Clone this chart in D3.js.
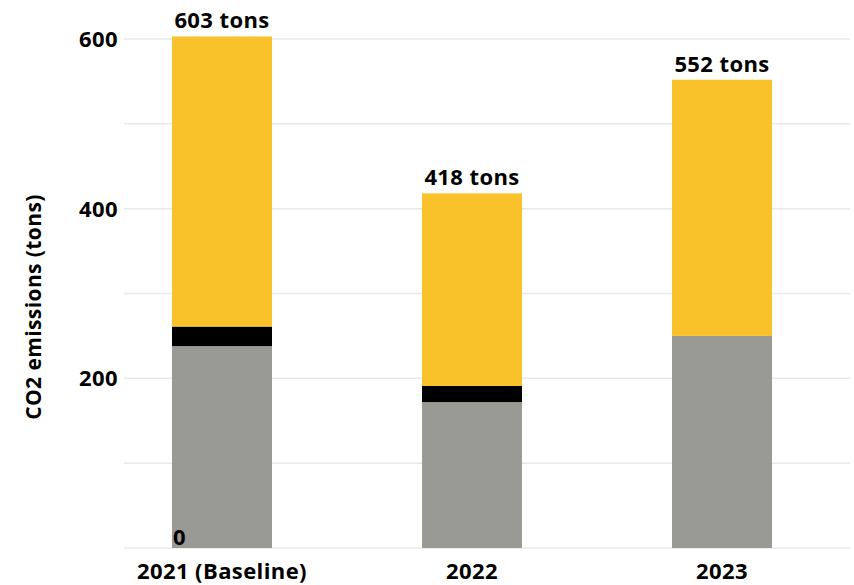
<!DOCTYPE html>
<html><head><meta charset="utf-8">
<script src="https://cdn.jsdelivr.net/npm/d3@7"></script>
<style>body{margin:0;background:#fff}text{font-family:"Open Sans",sans-serif;font-weight:700;fill:#000;letter-spacing:0.4px}</style>
</head><body><svg id="c" width="854" height="585"></svg>
<script>
const categories = ["2021 (Baseline)", "2022", "2023"];
const greyValues = [238, 172, 250];
const blackValues = [23, 19, 0];
const yellowValues = [342, 227, 302];
const totalLabels = ["603 tons", "418 tons", "552 tons"];
const gridValues = [0, 100, 200, 300, 400, 500, 600];
const tickLabels = ["0", "200", "400", "600"];
const tickLabelValues = [0, 200, 400, 600];
const yTitle = "CO2 emissions (tons)";

const svg = d3.select("#c");
const y = d3.scaleLinear().domain([0, 600]).range([548, 39]);
const x = d3.scaleBand().domain(categories).range([97, 847]).paddingInner(0.6).paddingOuter(0.3);

svg.append("g").selectAll("line").data(gridValues).join("line")
  .attr("x1", 124).attr("x2", 850).attr("y1", d => y(d)).attr("y2", d => y(d))
  .attr("stroke", "#e8e8e8").attr("stroke-width", 1.5);

const series = [
  {vals: greyValues, color: "#9a9a95"},
  {vals: blackValues, color: "#000000"},
  {vals: yellowValues, color: "#f9c22b"}
];
const stacked = categories.map((c, i) => {
  let acc = 0;
  return series.map(s => { const y0 = acc; acc += s.vals[i]; return {c, y0, y1: acc, color: s.color}; });
});
svg.append("g").selectAll("rect").data(stacked.flat().filter(d => d.y1 > d.y0)).join("rect")
  .attr("x", d => x(d.c)).attr("width", x.bandwidth())
  .attr("y", d => y(d.y1)).attr("height", d => y(d.y0) - y(d.y1))
  .attr("fill", d => d.color);

svg.append("g").selectAll("text").data(categories).join("text")
  .attr("x", (d) => x(d) + x.bandwidth() / 2)
  .attr("y", (d, i) => y(stacked[i][2].y1) - 8)
  .attr("text-anchor", "middle").attr("font-size", 22)
  .text((d, i) => totalLabels[i]);

svg.append("g").selectAll("text").data(tickLabelValues).join("text")
  .attr("x", d => d === 0 ? x(categories[0]) + 1 : 118)
  .attr("y", d => d === 0 ? y(d) - 3 : y(d) + 8)
  .attr("text-anchor", d => d === 0 ? "start" : "end").attr("font-size", 22)
  .text((d, i) => tickLabels[i]);

svg.append("g").selectAll("text").data(categories).join("text")
  .attr("x", d => x(d) + x.bandwidth() / 2).attr("y", 579)
  .attr("text-anchor", "middle").attr("font-size", 22)
  .text(d => d);

svg.append("text").attr("transform", "translate(41,307) rotate(-90)")
  .attr("text-anchor", "middle").attr("font-size", 21).text(yTitle);
</script></body></html>
